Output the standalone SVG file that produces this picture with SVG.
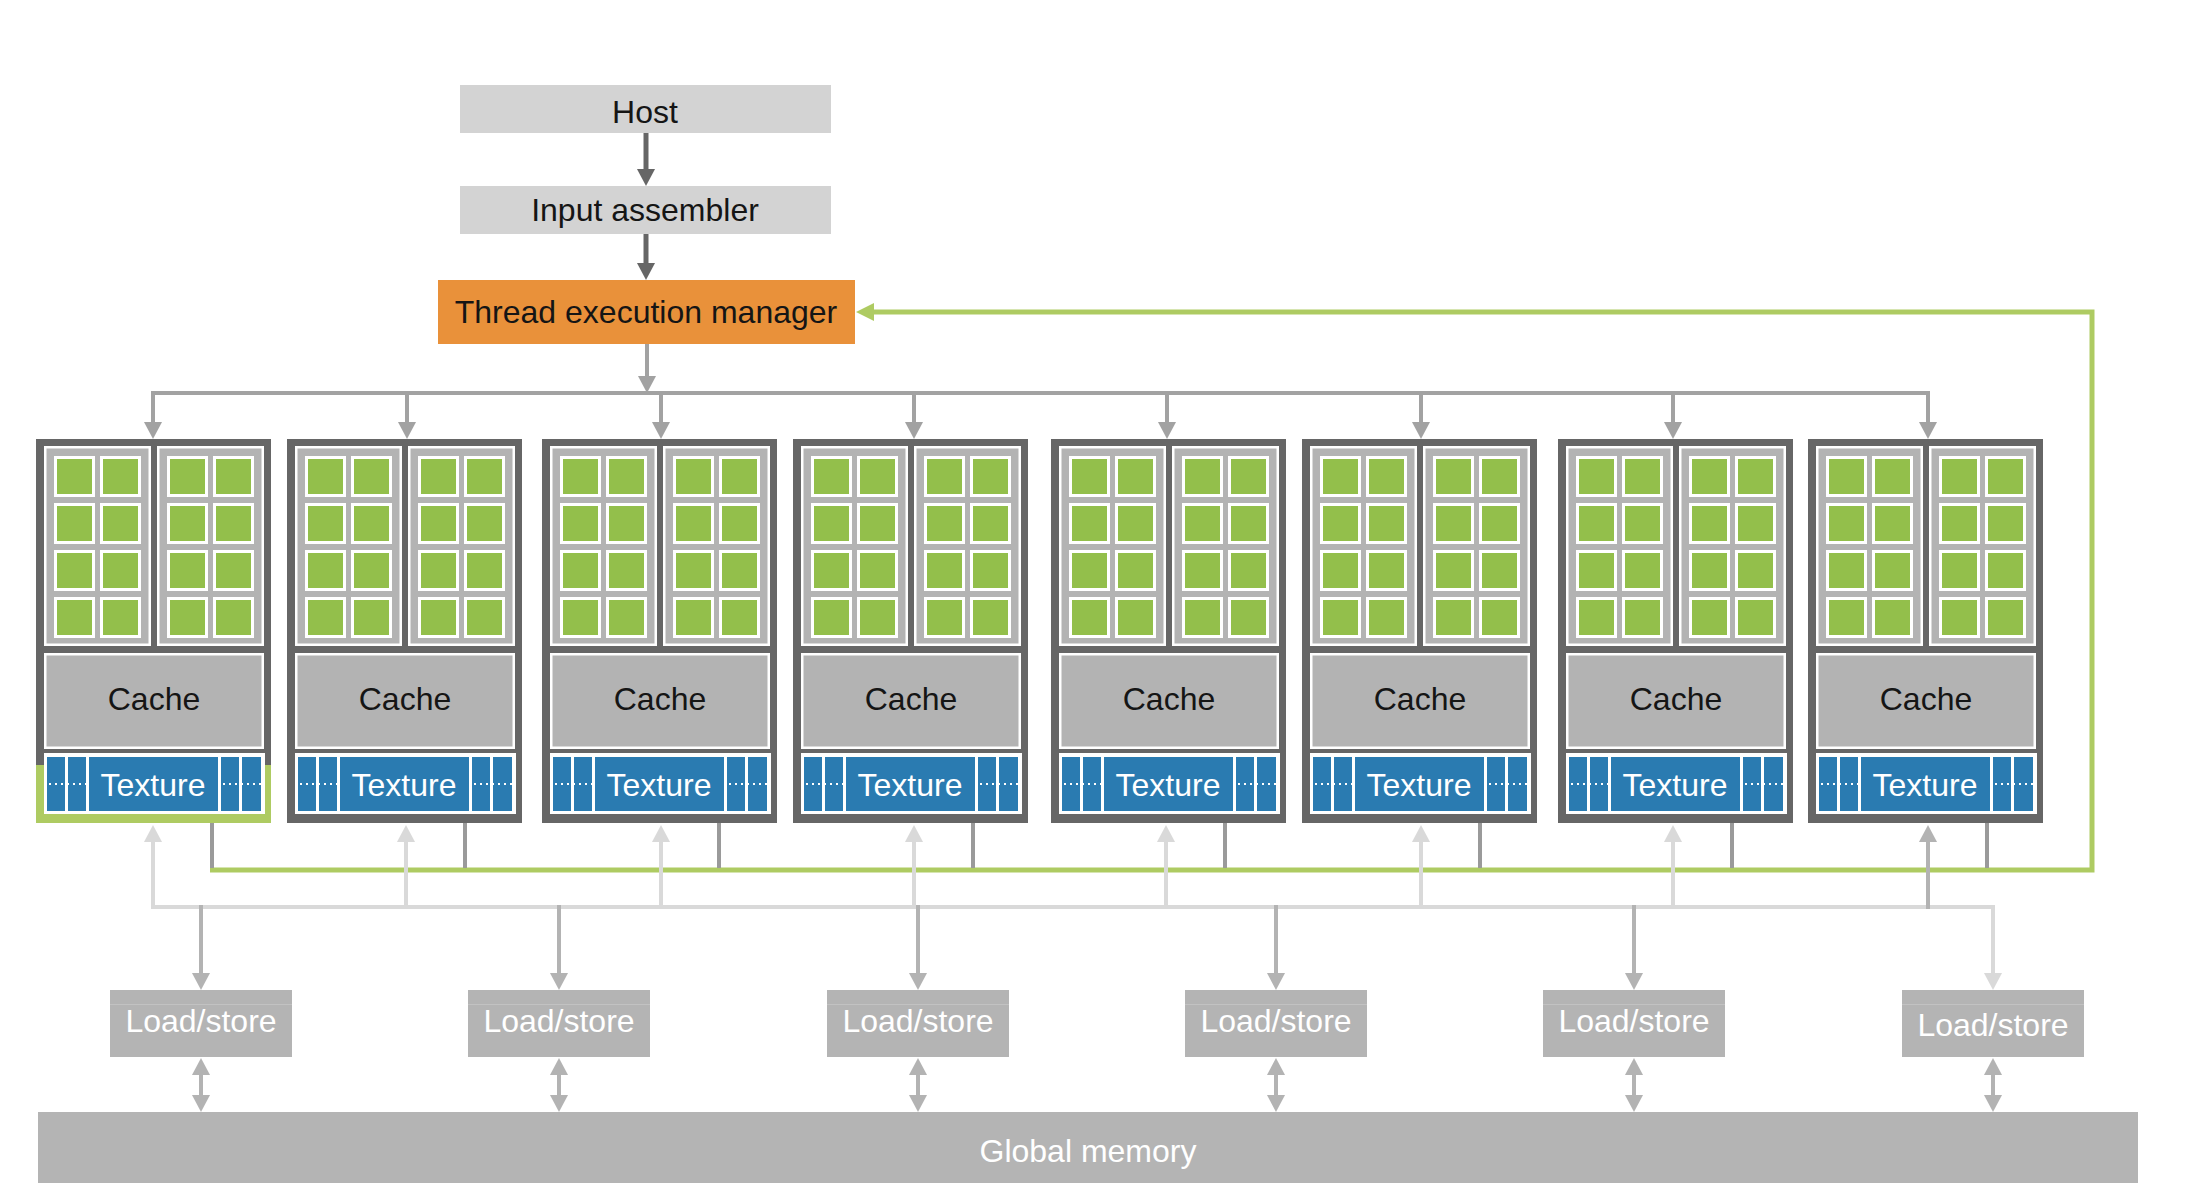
<svg xmlns="http://www.w3.org/2000/svg" xmlns:xlink="http://www.w3.org/1999/xlink" width="2200" height="1204" viewBox="0 0 2200 1204">
  <style>
    .lbl { font-family: "Liberation Sans", Arial, Helvetica, sans-serif; font-size: 32px; text-anchor: middle; }
    .ink { fill: #151515; }
    .inv { fill: #ffffff; }
    .frame { fill: #666666; }
    .wt { fill: #ffffff; }
    .gry { fill: #b3b3b3; }
    .alu { fill: #93bf4b; }
    .tex { fill: #2a7bb1; }
    .hl { fill: #aecb62; }
    .pale { fill: #d3d3d3; }
    .tem { fill: #e9913a; }
    .unit { fill: #b4b4b4; }
    .dots { stroke: #ffffff; stroke-width: 2; stroke-dasharray: 2 4; fill: none; }
    .seam { stroke: #c2c2c2; stroke-width: 1; fill: none; }
    .w-dark { stroke: #666666; stroke-width: 5; fill: none; }
    .w-mid { stroke: #a2a2a2; stroke-width: 4; fill: none; }
    .w-lite { stroke: #d9d9d9; stroke-width: 4; fill: none; }
    .w-ls { stroke: #b3b3b3; stroke-width: 4; fill: none; }
    .w-stub { stroke: #9a9a9a; stroke-width: 4; fill: none; }
    .w-green { stroke: #aecb62; stroke-width: 5; fill: none; }
  </style>
  <defs>
    <marker id="ah-dark" markerUnits="userSpaceOnUse" markerWidth="17" markerHeight="18" refX="2" refY="9" orient="auto-start-reverse">
      <path d="M0,0 L17,9 L0,18 z" fill="#666666"/>
    </marker>
    <marker id="ah-mid" markerUnits="userSpaceOnUse" markerWidth="17" markerHeight="18" refX="2" refY="9" orient="auto-start-reverse">
      <path d="M0,0 L17,9 L0,18 z" fill="#a2a2a2"/>
    </marker>
    <marker id="ah-lite" markerUnits="userSpaceOnUse" markerWidth="17" markerHeight="18" refX="2" refY="9" orient="auto-start-reverse">
      <path d="M0,0 L17,9 L0,18 z" fill="#d9d9d9"/>
    </marker>
    <marker id="ah-ls" markerUnits="userSpaceOnUse" markerWidth="17" markerHeight="18" refX="2" refY="9" orient="auto-start-reverse">
      <path d="M0,0 L17,9 L0,18 z" fill="#b3b3b3"/>
    </marker>
    <marker id="ah-green" markerUnits="userSpaceOnUse" markerWidth="18" markerHeight="18" refX="2" refY="9" orient="auto-start-reverse">
      <path d="M0,0 L18,9 L0,18 z" fill="#aecb62"/>
    </marker>

    <!-- one processing core: white rim, green body -->
    <g id="cell">
      <rect class="wt" width="41" height="41"/>
      <rect class="alu" x="3" y="3" width="35" height="35"/>
    </g>

    <!-- block of 2x4 cores -->
    <g id="core-block">
      <rect class="wt" width="107" height="200"/>
      <rect class="gry" x="2.5" y="2.5" width="102" height="195"/>
      <use xlink:href="#cell" x="10" y="10"/>
      <use xlink:href="#cell" x="56" y="10"/>
      <use xlink:href="#cell" x="10" y="57"/>
      <use xlink:href="#cell" x="56" y="57"/>
      <use xlink:href="#cell" x="10" y="104"/>
      <use xlink:href="#cell" x="56" y="104"/>
      <use xlink:href="#cell" x="10" y="151"/>
      <use xlink:href="#cell" x="56" y="151"/>
    </g>

    <!-- multiprocessor frame, two core blocks and the cache -->
    <g id="sm-core">
      <rect class="frame" width="235" height="384"/>
      <use xlink:href="#core-block" x="8" y="7"/>
      <use xlink:href="#core-block" x="121" y="7"/>
      <rect class="wt" x="8" y="214" width="220" height="96"/>
      <rect class="gry" x="10.5" y="216.5" width="215" height="91"/>
    </g>

    <!-- texture strip at the bottom of each multiprocessor -->
    <g id="sm-tex">
      <rect class="wt" x="8" y="314" width="221" height="61"/>
      <rect class="tex" x="11" y="318" width="18" height="54"/>
      <rect class="tex" x="32" y="318" width="18" height="54"/>
      <rect class="tex" x="53" y="318" width="129" height="54"/>
      <rect class="tex" x="185" y="318" width="18" height="54"/>
      <rect class="tex" x="206" y="318" width="19" height="54"/>
      <path class="dots" d="M13 345 H50 M187 345 H225"/>
    </g>
  </defs>

  <rect width="2200" height="1204" fill="#ffffff"/>

  <!-- connectors -->
  <g id="connectors">
    <!-- host pipeline -->
    <path class="w-dark" d="M646 133 V171" marker-end="url(#ah-dark)"/>
    <path class="w-dark" d="M646 234 V265" marker-end="url(#ah-dark)"/>
    <path class="w-mid" d="M647 344 V378" marker-end="url(#ah-mid)"/>

    <!-- distribution bus to the multiprocessors -->
    <path class="w-mid" d="M151 393 H1930"/>
    <path class="w-mid" d="M153 391 V424" marker-end="url(#ah-mid)"/>
    <path class="w-mid" d="M407 391 V424" marker-end="url(#ah-mid)"/>
    <path class="w-mid" d="M661 391 V424" marker-end="url(#ah-mid)"/>
    <path class="w-mid" d="M914 391 V424" marker-end="url(#ah-mid)"/>
    <path class="w-mid" d="M1167 391 V424" marker-end="url(#ah-mid)"/>
    <path class="w-mid" d="M1421 391 V424" marker-end="url(#ah-mid)"/>
    <path class="w-mid" d="M1673 391 V424" marker-end="url(#ah-mid)"/>
    <path class="w-mid" d="M1928 393 V424" marker-end="url(#ah-mid)"/>

    <!-- feedback loop back to the thread execution manager -->
    <path class="w-green" d="M210 870 H2092 V312 H872" marker-end="url(#ah-green)"/>
    <path class="w-stub" d="M212 823 V868"/>
    <path class="w-stub" d="M465 823 V868"/>
    <path class="w-stub" d="M719 823 V868"/>
    <path class="w-stub" d="M973 823 V868"/>
    <path class="w-stub" d="M1225 823 V868"/>
    <path class="w-stub" d="M1480 823 V868"/>
    <path class="w-stub" d="M1732 823 V868"/>
    <path class="w-stub" d="M1987 823 V868"/>

    <!-- memory bus -->
    <path class="w-lite" d="M153 907 H1993 V975" marker-end="url(#ah-lite)"/>
    <path class="w-lite" d="M153 909 V840" marker-end="url(#ah-lite)"/>
    <path class="w-lite" d="M406 909 V840" marker-end="url(#ah-lite)"/>
    <path class="w-lite" d="M661 909 V840" marker-end="url(#ah-lite)"/>
    <path class="w-lite" d="M914 909 V840" marker-end="url(#ah-lite)"/>
    <path class="w-lite" d="M1166 909 V840" marker-end="url(#ah-lite)"/>
    <path class="w-lite" d="M1421 909 V840" marker-end="url(#ah-lite)"/>
    <path class="w-lite" d="M1673 909 V840" marker-end="url(#ah-lite)"/>
    <path class="w-ls" d="M1928 909 V840" marker-end="url(#ah-ls)"/>

    <!-- bus to load/store units -->
    <path class="w-ls" d="M201 905 V975" marker-end="url(#ah-ls)"/>
    <path class="w-ls" d="M559 905 V975" marker-end="url(#ah-ls)"/>
    <path class="w-ls" d="M918 905 V975" marker-end="url(#ah-ls)"/>
    <path class="w-ls" d="M1276 905 V975" marker-end="url(#ah-ls)"/>
    <path class="w-ls" d="M1634 905 V975" marker-end="url(#ah-ls)"/>

    <!-- load/store to global memory -->
    <path class="w-ls" d="M201 1073 V1097" marker-start="url(#ah-ls)" marker-end="url(#ah-ls)"/>
    <path class="w-ls" d="M559 1073 V1097" marker-start="url(#ah-ls)" marker-end="url(#ah-ls)"/>
    <path class="w-ls" d="M918 1073 V1097" marker-start="url(#ah-ls)" marker-end="url(#ah-ls)"/>
    <path class="w-ls" d="M1276 1073 V1097" marker-start="url(#ah-ls)" marker-end="url(#ah-ls)"/>
    <path class="w-ls" d="M1634 1073 V1097" marker-start="url(#ah-ls)" marker-end="url(#ah-ls)"/>
    <path class="w-ls" d="M1993 1073 V1097" marker-start="url(#ah-ls)" marker-end="url(#ah-ls)"/>
  </g>

  <!-- front end -->
  <g id="host">
    <rect class="pale" x="460" y="85" width="371" height="48"/>
    <text class="lbl ink" x="645" y="123">Host</text>
  </g>
  <g id="input-assembler">
    <rect class="pale" x="460" y="186" width="371" height="48"/>
    <text class="lbl ink" x="645" y="221">Input assembler</text>
  </g>
  <g id="thread-execution-manager">
    <rect class="tem" x="438" y="280" width="417" height="64"/>
    <text class="lbl ink" x="646" y="323">Thread execution manager</text>
  </g>

  <!-- streaming multiprocessors -->
  <g id="sm1" transform="translate(36,439)">
    <use xlink:href="#sm-core"/>
    <rect class="hl" x="0" y="326" width="235" height="58"/>
    <use xlink:href="#sm-tex"/>
    <text class="lbl ink" x="118" y="271">Cache</text>
    <text class="lbl inv" x="117" y="357">Texture</text>
  </g>
  <g id="sm2" transform="translate(287,439)">
    <use xlink:href="#sm-core"/>
    <use xlink:href="#sm-tex"/>
    <text class="lbl ink" x="118" y="271">Cache</text>
    <text class="lbl inv" x="117" y="357">Texture</text>
  </g>
  <g id="sm3" transform="translate(542,439)">
    <use xlink:href="#sm-core"/>
    <use xlink:href="#sm-tex"/>
    <text class="lbl ink" x="118" y="271">Cache</text>
    <text class="lbl inv" x="117" y="357">Texture</text>
  </g>
  <g id="sm4" transform="translate(793,439)">
    <use xlink:href="#sm-core"/>
    <use xlink:href="#sm-tex"/>
    <text class="lbl ink" x="118" y="271">Cache</text>
    <text class="lbl inv" x="117" y="357">Texture</text>
  </g>
  <g id="sm5" transform="translate(1051,439)">
    <use xlink:href="#sm-core"/>
    <use xlink:href="#sm-tex"/>
    <text class="lbl ink" x="118" y="271">Cache</text>
    <text class="lbl inv" x="117" y="357">Texture</text>
  </g>
  <g id="sm6" transform="translate(1302,439)">
    <use xlink:href="#sm-core"/>
    <use xlink:href="#sm-tex"/>
    <text class="lbl ink" x="118" y="271">Cache</text>
    <text class="lbl inv" x="117" y="357">Texture</text>
  </g>
  <g id="sm7" transform="translate(1558,439)">
    <use xlink:href="#sm-core"/>
    <use xlink:href="#sm-tex"/>
    <text class="lbl ink" x="118" y="271">Cache</text>
    <text class="lbl inv" x="117" y="357">Texture</text>
  </g>
  <g id="sm8" transform="translate(1808,439)">
    <use xlink:href="#sm-core"/>
    <use xlink:href="#sm-tex"/>
    <text class="lbl ink" x="118" y="271">Cache</text>
    <text class="lbl inv" x="117" y="357">Texture</text>
  </g>

  <!-- load/store units -->
  <g id="ls1">
    <rect class="unit" x="110" y="990" width="182" height="67"/>
    <path class="seam" d="M110 1004.5 H292"/>
    <text class="lbl inv" x="201" y="1032">Load/store</text>
  </g>
  <g id="ls2">
    <rect class="unit" x="468" y="990" width="182" height="67"/>
    <path class="seam" d="M468 1004.5 H650"/>
    <text class="lbl inv" x="559" y="1032">Load/store</text>
  </g>
  <g id="ls3">
    <rect class="unit" x="827" y="990" width="182" height="67"/>
    <path class="seam" d="M827 1004.5 H1009"/>
    <text class="lbl inv" x="918" y="1032">Load/store</text>
  </g>
  <g id="ls4">
    <rect class="unit" x="1185" y="990" width="182" height="67"/>
    <path class="seam" d="M1185 1004.5 H1367"/>
    <text class="lbl inv" x="1276" y="1032">Load/store</text>
  </g>
  <g id="ls5">
    <rect class="unit" x="1543" y="990" width="182" height="67"/>
    <path class="seam" d="M1543 1004.5 H1725"/>
    <text class="lbl inv" x="1634" y="1032">Load/store</text>
  </g>
  <g id="ls6">
    <rect class="unit" x="1902" y="990" width="182" height="67"/>
    <path class="seam" d="M1902 1004.5 H2084"/>
    <text class="lbl inv" x="1993" y="1036">Load/store</text>
  </g>

  <!-- global memory -->
  <g id="global-memory">
    <rect class="unit" x="38" y="1112" width="2100" height="71"/>
    <text class="lbl inv" x="1088" y="1162">Global memory</text>
  </g>
</svg>
